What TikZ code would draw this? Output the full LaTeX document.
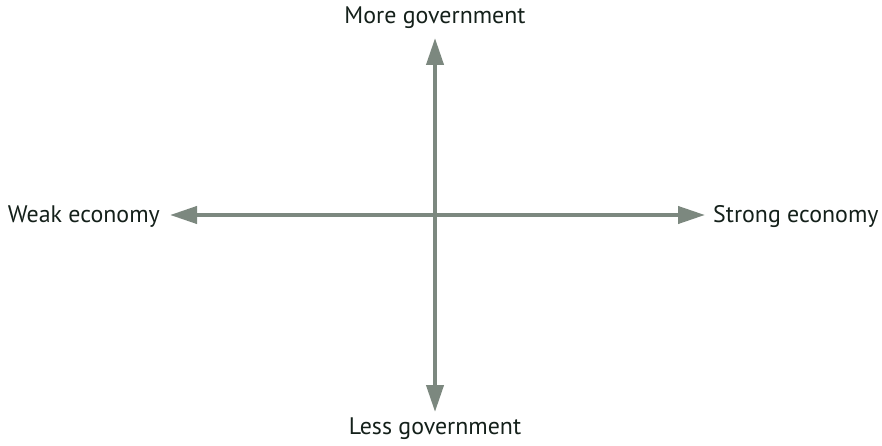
\documentclass[tikz,border=0pt]{standalone}
\usepackage{fontspec}
\setmainfont{PT Sans}
\usetikzlibrary{arrows.meta}
\definecolor{axisgray}{HTML}{7C887F}
\definecolor{labeltext}{HTML}{14201A}
\begin{document}
\begin{tikzpicture}[x=1pt,y=-1pt,
  axis/.style={draw=axisgray,line width=4pt,{Triangle[length=27pt,width=17pt]}-{Triangle[length=27pt,width=17pt]}},
  lbl/.style={text=labeltext,font=\fontsize{23.9}{28}\selectfont,inner sep=0pt}]
\useasboundingbox (0,0) rectangle (882,446);
\node[lbl,anchor=east] (weak) at (160,217) {Weak economy};
\node[lbl,anchor=west] (strong) at (713,217) {Strong economy};
\node[lbl] (more) at (435,18) {More government};
\node[lbl] (less) at (435,429) {Less government};
\coordinate (l) at (170,215);
\coordinate (r) at (705,215);
\coordinate (t) at (435,38);
\coordinate (b) at (435,412);
\draw[axis] (l) -- (r);
\draw[axis] (b) -- (t);
\end{tikzpicture}
\end{document}
